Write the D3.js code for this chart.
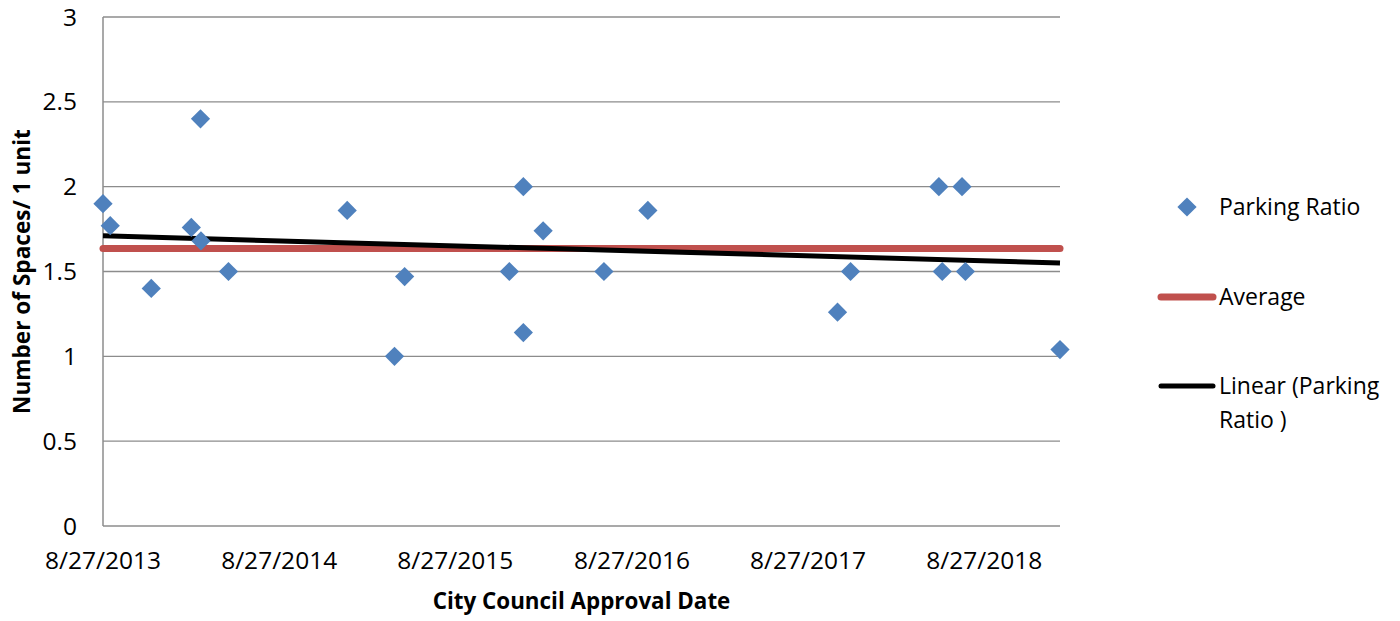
<!DOCTYPE html>
<html><head><meta charset="utf-8">
<script src="https://cdn.jsdelivr.net/npm/d3@7"></script>
<style>
html,body{margin:0;padding:0;background:#fff;}
svg{display:block;font-family:"Open Sans",sans-serif;}
</style></head>
<body><svg id="c" width="1400" height="621"></svg>
<script>
// ---- data ----
const approvalDates = ["2013-08-27","2013-09-11","2013-12-05","2014-02-26","2014-03-18","2014-03-17","2014-05-14",
  "2015-01-15","2015-04-23","2015-05-14","2015-12-17","2016-01-15","2016-01-15","2016-02-25","2016-06-30",
  "2016-09-29","2017-10-27","2017-11-23","2018-05-25","2018-06-01","2018-07-12","2018-07-19","2019-01-31"];
const parkingRatio = [1.90,1.77,1.40,1.76,1.68,2.40,1.50,1.86,1.00,1.47,1.50,2.00,1.14,1.74,1.50,1.86,1.26,1.50,2.00,1.50,2.00,1.50,1.04];
const averageValue = [1.635, 1.635];
const trendValues = [1.71, 1.55];
const xTickLabels = ["2013-08-27","2014-08-27","2015-08-27","2016-08-27","2017-08-27","2018-08-27"];
const yTickValues = [0,0.5,1,1.5,2,2.5,3];
const xDomain = ["2013-08-27","2019-01-31"];

const parse = d3.utcParse("%Y-%m-%d");
const fmt = d3.utcFormat("%-m/%-d/%Y");
const svg = d3.select("#c");
const L=103, R=1060, T=17, B=526;
const x = d3.scaleUtc().domain(xDomain.map(parse)).range([L,R]);
const y = d3.scaleLinear().domain([0,3]).range([B,T]);
const grid="#8c8c8c";

// gridlines
svg.append("g").selectAll("line").data(yTickValues.filter(v=>v>0)).join("line")
  .attr("x1",L).attr("x2",R).attr("y1",d=>y(d)).attr("y2",d=>y(d))
  .attr("stroke",grid).attr("stroke-width",1.3);
// axes lines
svg.append("line").attr("x1",L).attr("x2",L).attr("y1",T).attr("y2",B).attr("stroke",grid).attr("stroke-width",1.5);
svg.append("line").attr("x1",L).attr("x2",R).attr("y1",B).attr("y2",B).attr("stroke",grid).attr("stroke-width",1.5);

// y tick labels
svg.append("g").selectAll("text").data(yTickValues).join("text")
  .attr("x",77).attr("y",d=>y(d)).attr("dy","0.35em").attr("text-anchor","end")
  .attr("font-size",24.5).attr("fill","#000").text(d=>d3.format("")(d));
// x tick labels
svg.append("g").selectAll("text").data(xTickLabels.map(parse)).join("text")
  .attr("x",d=>x(d)).attr("y",560).attr("dy","0.35em").attr("text-anchor","middle")
  .attr("font-size",24.5).attr("fill","#000").text(d=>fmt(d));

// average line
const xd = xDomain.map(parse);
svg.append("line").attr("x1",x(xd[0])).attr("x2",x(xd[1])).attr("y1",y(averageValue[0])).attr("y2",y(averageValue[1]))
  .attr("stroke","#C0504D").attr("stroke-width",7).attr("stroke-linecap","round");
// trend line
svg.append("line").attr("x1",x(xd[0])).attr("x2",x(xd[1])).attr("y1",y(trendValues[0])).attr("y2",y(trendValues[1]))
  .attr("stroke","#000").attr("stroke-width",5);

// points
const sym = d3.symbol().type(d3.symbolSquare).size(185);
svg.append("g").selectAll("path").data(parkingRatio).join("path")
  .attr("d",sym).attr("fill","#4F81BD")
  .attr("transform",(d,i)=>`translate(${x(parse(approvalDates[i]))},${y(d)}) rotate(45)`);

// axis titles
svg.append("text").attr("x",(L+R)/2).attr("y",601).attr("dy","0.35em").attr("text-anchor","middle")
  .attr("font-size",22.4).attr("font-weight","bold").text("City Council Approval Date");
svg.append("text").attr("transform",`translate(22,${(T+B)/2}) rotate(-90)`).attr("dy","0.35em").attr("text-anchor","middle")
  .attr("font-size",22.6).attr("font-weight","bold").text("Number of Spaces/ 1 unit");

// legend
const lg = svg.append("g");
lg.append("path").attr("d",sym).attr("fill","#4F81BD").attr("transform","translate(1187,207) rotate(45)");
lg.append("text").attr("x",1219).attr("y",207).attr("dy","0.35em").attr("font-size",23).text("Parking Ratio");
lg.append("line").attr("x1",1161).attr("x2",1213).attr("y1",297).attr("y2",297).attr("stroke","#C0504D").attr("stroke-width",7).attr("stroke-linecap","round");
lg.append("text").attr("x",1219).attr("y",297).attr("dy","0.35em").attr("font-size",23).text("Average");
lg.append("line").attr("x1",1161).attr("x2",1213).attr("y1",386).attr("y2",386).attr("stroke","#000").attr("stroke-width",5).attr("stroke-linecap","round");
lg.append("text").attr("x",1219).attr("y",386).attr("dy","0.35em").attr("font-size",23).text("Linear (Parking");
lg.append("text").attr("x",1219).attr("y",420).attr("dy","0.35em").attr("font-size",23).text("Ratio )");
</script></body></html>
